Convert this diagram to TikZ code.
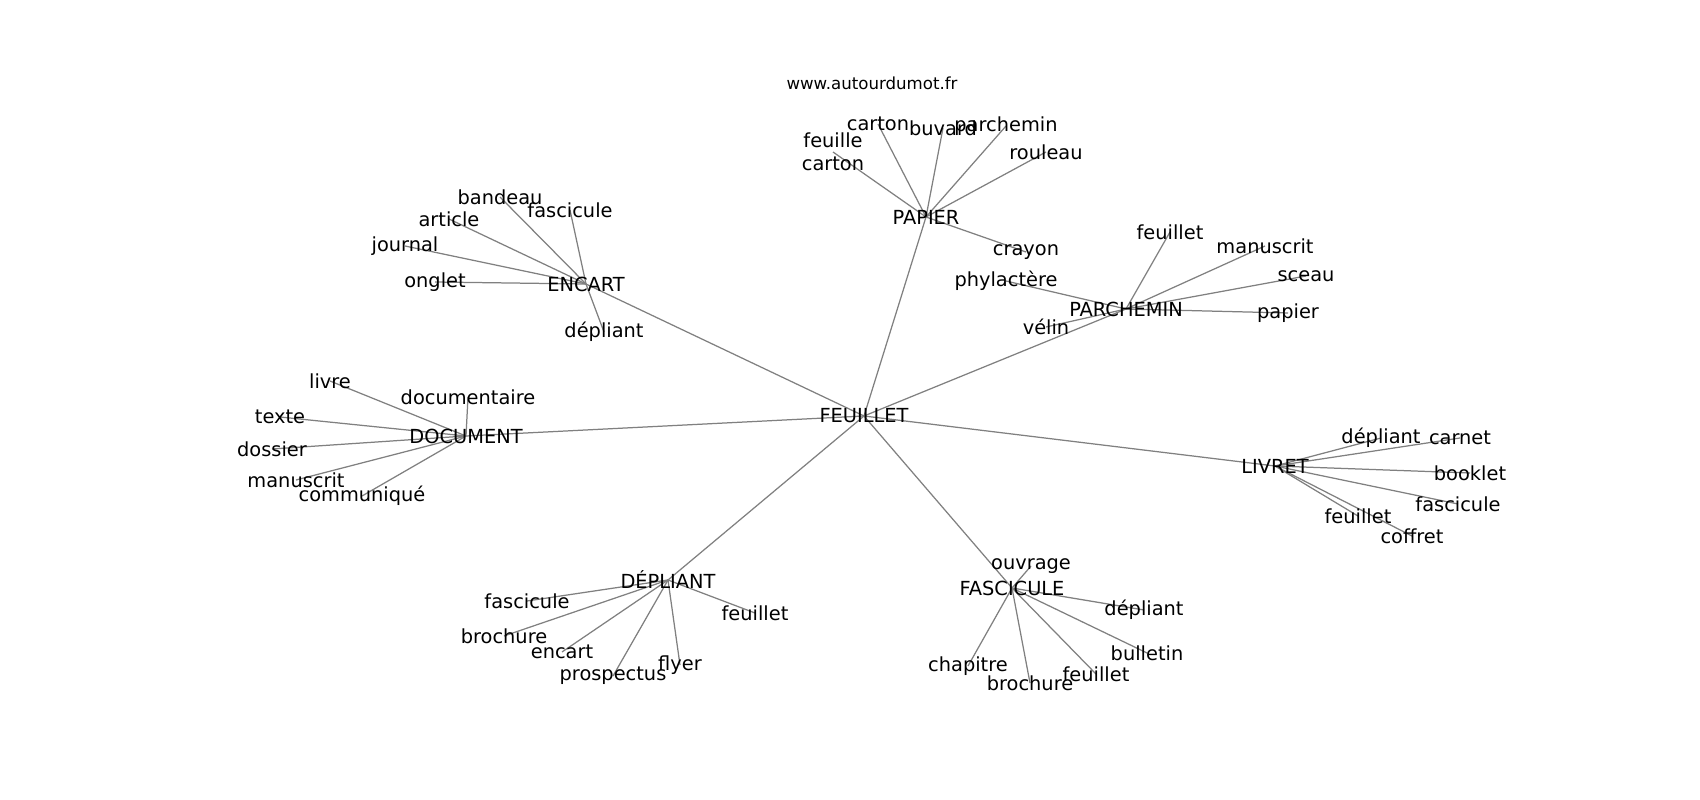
\documentclass[tikz,border=0pt]{standalone}
\usepackage{fontspec}
\setmainfont{DejaVu Sans}
\usepackage{tikz}

\pgfdeclarelayer{background}
\pgfsetlayers{background,main}

\tikzset{
  word/.style={inner sep=0pt, anchor=center, align=center, font=\fontsize{14}{17}\selectfont},
  link/.style={draw=gray, line width=0.9pt}
}

\begin{document}
\begin{tikzpicture}[x=0.01in, y=-0.01in]
  % Frame
  \useasboundingbox (0,0) rectangle (1700,800);
  \node[word, font=\fontsize{12}{14}\selectfont] (site) at (872,83) {www.autourdumot.fr};
  % Centre
  \node[word] (feuillet) at (864,416) {FEUILLET};
  % Papier
  \node[word] (papier) at (926,217) {PAPIER};
  \node[word] (pap-fcarton) at (833,152) {feuille\\carton};
  \node[word] (pap-carton) at (878,124) {carton};
  \node[word] (pap-buvard) at (943,128) {buvard};
  \node[word] (pap-parchemin) at (1006,126) {parchemin};
  \node[word] (pap-rouleau) at (1046,152) {rouleau};
  \node[word] (pap-crayon) at (1026,252) {crayon};
  % Parchemin
  \node[word] (parchemin) at (1126,309) {PARCHEMIN};
  \node[word] (par-phylactere) at (1006,281) {phylactère};
  \node[word] (par-velin) at (1046,327) {vélin};
  \node[word] (par-feuillet) at (1170,232) {feuillet};
  \node[word] (par-manuscrit) at (1265,246) {manuscrit};
  \node[word] (par-sceau) at (1306,276) {sceau};
  \node[word] (par-papier) at (1288,313) {papier};
  % Encart
  \node[word] (encart) at (586,284) {ENCART};
  \node[word] (enc-bandeau) at (500,197) {bandeau};
  \node[word] (enc-fascicule) at (570,210) {fascicule};
  \node[word] (enc-article) at (449,219) {article};
  \node[word] (enc-journal) at (405,246) {journal};
  \node[word] (enc-onglet) at (435,282) {onglet};
  \node[word] (enc-depliant) at (604,332) {dépliant};
  % Document
  \node[word] (document) at (466,436) {DOCUMENT};
  \node[word] (doc-livre) at (330,381) {livre};
  \node[word] (doc-documentaire) at (468,397) {documentaire};
  \node[word] (doc-texte) at (280,417) {texte};
  \node[word] (doc-dossier) at (272,449) {dossier};
  \node[word] (doc-manuscrit) at (296,480) {manuscrit};
  \node[word] (doc-communique) at (362,496) {communiqué};
  % Depliant
  \node[word] (depliant) at (668,580) {DÉPLIANT};
  \node[word] (dep-fascicule) at (527,601) {fascicule};
  \node[word] (dep-brochure) at (504,636) {brochure};
  \node[word] (dep-encart) at (562,652) {encart};
  \node[word] (dep-prospectus) at (613,676) {prospectus};
  \node[word] (dep-flyer) at (680,665) {flyer};
  \node[word] (dep-feuillet) at (755,613) {feuillet};
  % Fascicule
  \node[word] (fascicule) at (1012,588) {FASCICULE};
  \node[word] (fas-ouvrage) at (1031,566) {ouvrage};
  \node[word] (fas-depliant) at (1144,610) {dépliant};
  \node[word] (fas-bulletin) at (1147,653) {bulletin};
  \node[word] (fas-feuillet) at (1096,674) {feuillet};
  \node[word] (fas-brochure) at (1030,683) {brochure};
  \node[word] (fas-chapitre) at (968,666) {chapitre};
  % Livret
  \node[word] (livret) at (1275,466) {LIVRET};
  \node[word] (liv-depliant) at (1381,438) {dépliant};
  \node[word] (liv-carnet) at (1460,438) {carnet};
  \node[word] (liv-booklet) at (1470,473) {booklet};
  \node[word] (liv-fascicule) at (1458,504) {fascicule};
  \node[word] (liv-coffret) at (1412,536) {coffret};
  \node[word] (liv-feuillet) at (1358,516) {feuillet};
  % Links
  \begin{pgfonlayer}{background}
    \foreach \hub in {papier,parchemin,encart,document,depliant,fascicule,livret}
      \draw[link] (feuillet.center) -- (\hub.center);
    \foreach \leaf in {fcarton,carton,buvard,parchemin,rouleau,crayon}
      \draw[link] (papier.center) -- (pap-\leaf.center);
    \foreach \leaf in {phylactere,velin,feuillet,manuscrit,sceau,papier}
      \draw[link] (parchemin.center) -- (par-\leaf.center);
    \foreach \leaf in {bandeau,fascicule,article,journal,onglet,depliant}
      \draw[link] (encart.center) -- (enc-\leaf.center);
    \foreach \leaf in {livre,documentaire,texte,dossier,manuscrit,communique}
      \draw[link] (document.center) -- (doc-\leaf.center);
    \foreach \leaf in {fascicule,brochure,encart,prospectus,flyer,feuillet}
      \draw[link] (depliant.center) -- (dep-\leaf.center);
    \foreach \leaf in {ouvrage,depliant,bulletin,feuillet,brochure,chapitre}
      \draw[link] (fascicule.center) -- (fas-\leaf.center);
    \foreach \leaf in {depliant,carnet,booklet,fascicule,coffret,feuillet}
      \draw[link] (livret.center) -- (liv-\leaf.center);
  \end{pgfonlayer}
\end{tikzpicture}
\end{document}
